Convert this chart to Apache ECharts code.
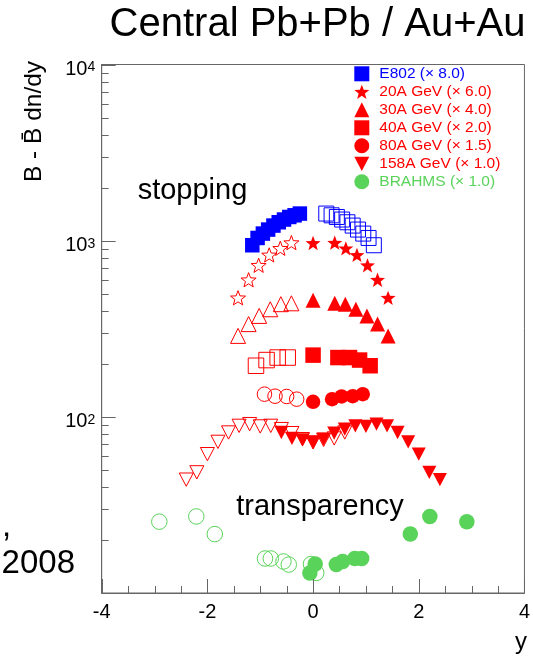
<!DOCTYPE html>
<html><head><meta charset="utf-8">
<script src="https://cdn.jsdelivr.net/npm/echarts@6/dist/echarts.min.js"></script>
<style>html,body{margin:0;padding:0;background:#fff}#c{width:533px;height:658px}</style>
</head><body><div id="c"></div>
<script>
const FONT = '"Liberation Sans", Arial, Helvetica, sans-serif';
const BLUE = '#0000ff', RED = '#ff0000', GREEN = '#5ad35a';

// axis ticks
const xRange = [-4, 4];
const xMajorTicks = [-4, -2, 0, 2, 4];
const xMinorTicks = [-3.5, -3, -2.5, -1.5, -1, -0.5, 0.5, 1, 1.5, 2.5, 3, 3.5];
const yRange = [10, 10000];
const yMajorTicks = [10, 100, 1000, 10000];
const yLabelTicks = [100, 1000, 10000];
const yMinorTicks = [20,30,40,50,60,70,80,90,200,300,400,500,600,700,800,900,2000,3000,4000,5000,6000,7000,8000,9000];

// legend labels
const names = ['E802 (× 8.0)', '20A GeV (× 6.0)', '30A GeV (× 4.0)', '40A GeV (× 2.0)', '80A GeV (× 1.5)', '158A GeV (× 1.0)', 'BRAHMS (× 1.0)'];

// E802 (scaled x8)
const e802Y  = [-1.15,-1.05,-0.95,-0.85,-0.75,-0.65,-0.55,-0.45,-0.35,-0.25];
const e802V  = [942,1036,1097,1156,1218,1272,1318,1363,1393,1425];
const e802rY = [0.25,0.35,0.45,0.55,0.65,0.75,0.85,0.95,1.05,1.15];
const e802rV = [1425,1393,1363,1318,1272,1218,1156,1097,1036,942];
// 20A GeV (x6)
const a20Y  = [0.0,0.41,0.62,0.83,1.03,1.22,1.42];
const a20V  = [970,975,905,830,725,600,474];
const a20rY = [-0.41,-0.62,-0.83,-1.03,-1.22,-1.42];
const a20rV = [975,905,830,725,600,474];
// 30A GeV (x4)
const a30Y  = [0.0,0.41,0.61,0.81,1.02,1.22,1.42];
const a30V  = [459,441,436,408,374,336,288];
const a30rY = [-0.41,-0.61,-0.81,-1.02,-1.22,-1.42];
const a30rV = [441,436,408,374,336,288];
// 40A GeV (x2)
const a40Y  = [0.0,0.47,0.69,0.88,1.08];
const a40V  = [224,217,217,210,195];
const a40rY = [-0.48,-0.67,-0.88,-1.08];
const a40rV = [217,217,210,195];
// 80A GeV (x1.5)
const a80Y  = [0.0,0.36,0.54,0.75,0.94];
const a80V  = [121.7,126,130.5,131,134.5];
const a80rY = [-0.31,-0.5,-0.72,-0.92];
const a80rV = [126,130.5,131,134.5];
// 158A GeV (x1)
const a158Y  = [-0.6,-0.4,-0.2,0.0,0.2,0.4,0.6,0.8,1.0,1.2,1.4,1.6,1.8,2.0,2.2,2.4];
const a158V  = [81.5,75.4,74.0,71.6,74.7,80.8,85.2,88.9,88.2,90.9,88.9,81.5,72.1,61.4,48.4,44];
const a158rY = [-2.4,-2.2,-2.0,-1.8,-1.6,-1.4,-1.2,-1.0,-0.8,-0.6,-0.4,-0.2,0.0,0.2,0.4,0.6];
const a158rV = [44,48.4,61.4,72.1,81.5,88.9,90.9,88.2,88.9,85.2,80.8,74.7,71.6,74.0,75.4,81.5];
// BRAHMS (x1)
const brY  = [-0.06,0.04,0.44,0.56,0.79,0.92,1.84,2.21,2.91];
const brV  = [13.0,14.6,14.5,15.1,15.7,15.7,21.6,27.2,25.4];
const brrY = [-2.91,-2.21,-1.86,-0.91,-0.8,-0.56,-0.46,-0.04,0.06];
const brrV = [25.4,27.2,21.6,15.7,15.7,15.1,14.5,14.6,13.0];

function starPath(inner) {
  let s = 'path://';
  for (let i = 0; i < 10; i++) {
    const r = i % 2 ? inner : 1;
    const a = -Math.PI / 2 + i * Math.PI / 5;
    s += (i ? 'L' : 'M') + (r * Math.cos(a) * 100).toFixed(2) + ',' + (r * Math.sin(a) * 100).toFixed(2);
  }
  return s + 'Z';
}
const STAR = starPath(0.42);
const TRI_DOWN = 'path://M0,0L100,0L50,95Z';

const zip = (xs, ys) => xs.map((x, i) => [x, ys[i]]);

function filled(name, xs, ys, symbol, size, color) {
  return { type: 'scatter', name, data: zip(xs, ys), symbol, symbolSize: size, symbolKeepAspect: true,
    itemStyle: { color, opacity: 1 }, z: 3, silent: true };
}
function hollow(name, xs, ys, symbol, size, color) {
  return { type: 'scatter', name, data: zip(xs, ys), symbol, symbolSize: size, symbolKeepAspect: true,
    itemStyle: { color: 'rgba(0,0,0,0)', borderColor: color, borderWidth: 1, opacity: 1 }, z: 4, silent: true };
}

const AXC = '#666666';
const texts = [
  { type: 'text', x: 317.5, y: 38.5 - 0.35 * 40, style: { text: 'Central Pb+Pb / Au+Au', font: '40px ' + FONT, fill: '#000', textAlign: 'center', textVerticalAlign: 'middle' } },
  { type: 'text', x: 192.5, y: 201.5 - 0.35 * 29, style: { text: 'stopping', font: '29px ' + FONT, fill: '#000', textAlign: 'center', textVerticalAlign: 'middle' } },
  { type: 'text', x: 320, y: 517.5 - 0.35 * 29, style: { text: 'transparency', font: '29px ' + FONT, fill: '#000', textAlign: 'center', textVerticalAlign: 'middle' } },
  { type: 'text', x: 34.5, y: 121.5, rotation: Math.PI / 2, style: { text: 'B - B\u0304 dn/dy', font: '24.5px ' + FONT, fill: '#000', textAlign: 'center', textVerticalAlign: 'middle' } },
  { type: 'text', x: 521, y: 650.8 - 0.35 * 24, style: { text: 'y', font: '24px ' + FONT, fill: '#000', textAlign: 'center', textVerticalAlign: 'middle' } },
  { type: 'text', x: 2, y: 538 - 0.35 * 33, style: { text: ',', font: '33px ' + FONT, fill: '#000', textAlign: 'left', textVerticalAlign: 'middle' } },
  { type: 'text', x: 75, y: 575 - 0.35 * 33, style: { text: '2008', font: '33px ' + FONT, fill: '#000', textAlign: 'right', textVerticalAlign: 'middle' } }
];

const chart = echarts.init(document.getElementById('c'), null, { renderer: 'canvas' });
chart.setOption({
  animation: false,
  backgroundColor: '#ffffff',
  grid: { left: 101.7, right: 5.5, top: 64.5, bottom: 65, show: true, borderColor: AXC, borderWidth: 1, backgroundColor: 'transparent' },
  xAxis: {
    type: 'value', min: xRange[0], max: xRange[1], interval: 2,
    axisLine: { show: true, onZero: false, lineStyle: { color: AXC, width: 1 } },
    axisTick: { show: false }, minorTick: { show: false },
    splitLine: { show: false }, minorSplitLine: { show: false },
    axisLabel: { fontFamily: FONT, fontSize: 20, color: '#000', margin: 9, formatter: v => String(v) }
  },
  yAxis: {
    type: 'log', logBase: 10, min: yRange[0], max: yRange[1], position: 'left',
    axisLine: { show: true, onZero: false, lineStyle: { color: AXC, width: 1 } },
    axisTick: { show: false }, minorTick: { show: false },
    splitLine: { show: false },
    axisLabel: {
      customValues: yLabelTicks, margin: 6.5, color: '#000', fontFamily: FONT,
      formatter: v => '{b|10}{s|' + Math.round(Math.log10(v)) + '}',
      rich: {
        b: { fontFamily: FONT, fontSize: 20, lineHeight: 20, padding: [10, 0, 0, 0], color: '#000' },
        s: { fontFamily: FONT, fontSize: 14, lineHeight: 14, padding: [6, 0, 0, 0], verticalAlign: 'top', color: '#000' }
      }
    }
  },
  legend: {
    orient: 'vertical', left: 354.3, top: 65.8, padding: 0, itemWidth: 15, itemHeight: 15, itemGap: 2,
    selectedMode: false,
    textStyle: { fontFamily: FONT, fontSize: 15.5, lineHeight: 15, padding: [0, 0, 0, 5] },
    data: names.map((n, i) => ({ name: n, textStyle: { color: i === 0 ? BLUE : (i === 6 ? GREEN : RED) } }))
  },
  series: [
    filled(names[0], e802Y, e802V, 'rect', 14.5, BLUE),
    filled(names[1], a20Y, a20V, STAR, 15, RED),
    filled(names[2], a30Y, a30V, 'triangle', 15, RED),
    filled(names[3], a40Y, a40V, 'rect', 15.5, RED),
    filled(names[4], a80Y, a80V, 'circle', 14.5, RED),
    filled(names[5], a158Y, a158V, TRI_DOWN, 14, RED),
    filled(names[6], brY, brV, 'circle', 15.5, GREEN),
    hollow('e802r', e802rY, e802rV, 'rect', 15, BLUE),
    hollow('a20r', a20rY, a20rV, STAR, 15, RED),
    hollow('a30r', a30rY, a30rV, 'triangle', 15, RED),
    hollow('a40r', a40rY, a40rV, 'rect', 15.5, RED),
    hollow('a80r', a80rY, a80rV, 'circle', 14.5, RED),
    hollow('a158r', a158rY, a158rV, TRI_DOWN, 14, RED),
    hollow('brr', brrY, brrV, 'circle', 15.5, GREEN)
  ],
  graphic: texts
});

// ticks placed through the library's own axis scales
const xPix = v => chart.convertToPixel({ xAxisIndex: 0 }, v);
const yPix = v => chart.convertToPixel({ yAxisIndex: 0 }, v);
const axX = xPix(xRange[0]);
const axY = yPix(yRange[0]);
const tickLine = (x1, y1, x2, y2) => ({ type: 'line', z: 10, silent: true,
  shape: { x1, y1, x2, y2 }, style: { stroke: AXC, lineWidth: 1 } });
const ticks = [];
xMajorTicks.forEach(v => { const p = Math.round(xPix(v)) + 0.5; ticks.push(tickLine(p, axY, p, axY - 14)); });
xMinorTicks.forEach(v => { const p = Math.round(xPix(v)) + 0.5; ticks.push(tickLine(p, axY, p, axY - 7)); });
yMajorTicks.forEach(v => { const p = Math.round(yPix(v)) + 0.5; ticks.push(tickLine(axX, p, axX + 14, p)); });
yMinorTicks.forEach(v => { const p = Math.round(yPix(v)) + 0.5; ticks.push(tickLine(axX, p, axX + 7, p)); });
chart.setOption({ graphic: texts.concat(ticks) });
</script></body></html>
